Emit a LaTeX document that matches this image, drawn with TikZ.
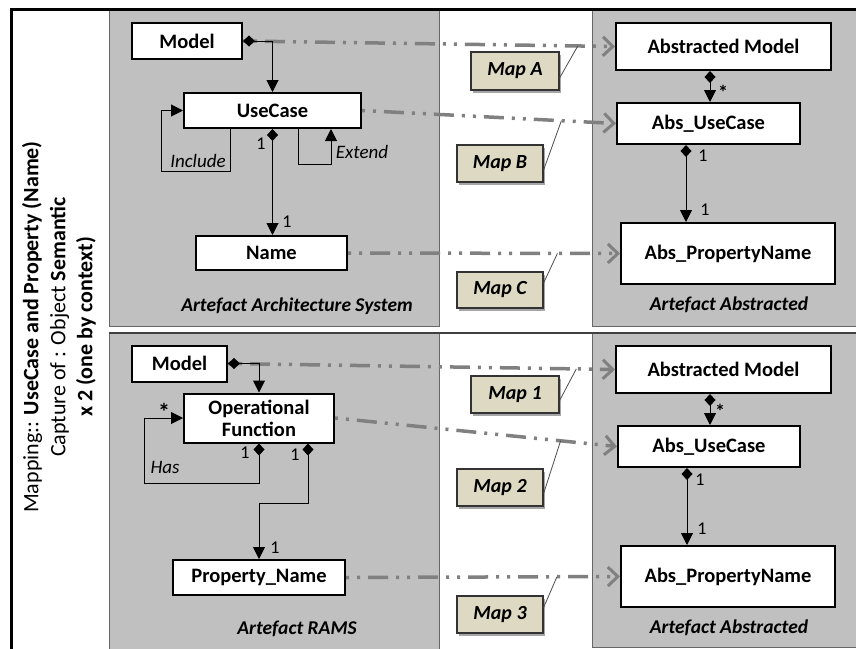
\documentclass[tikz,border=0pt]{standalone}
\usepackage{fontspec}
\setmainfont{Carlito}
\usetikzlibrary{arrows.meta,shadows}
\definecolor{panel}{HTML}{C0C0C0}
\definecolor{mapfill}{HTML}{DDD9C3}
\definecolor{mapline}{HTML}{808080}
\newcommand{\myfs}[2]{\fontsize{#1}{#2}\selectfont}
\begin{document}
\begin{tikzpicture}[x=1pt,y=-1pt,
 box/.style={draw, line width=2pt, fill=white, inner sep=0, font=\bfseries\myfs{20.5}{22}, align=center},
 mapbox/.style={draw=black!80, line width=1.2pt, fill=mapfill, inner sep=0, font=\bfseries\itshape\myfs{20}{22},
   drop shadow={shadow xshift=2pt, shadow yshift=-3pt, opacity=0.35, fill=black}},
 maplink/.style={draw=mapline, line width=3.5pt, dash pattern=on 3pt off 8pt on 3pt off 8pt on 20pt off 8pt,
   -{Straight Barb[length=10pt,width=19pt,line width=3pt]}},
 leader/.style={draw=black!70, line width=0.8pt},
 assoc/.style={draw, line width=1pt, {Diamond[length=12pt,width=11pt]}-{Triangle[length=12pt,width=12pt]}},
 selfassoc/.style={draw, line width=1pt, -{Triangle[length=12pt,width=12pt]}},
 lbl/.style={font=\itshape\myfs{19}{21}, inner sep=0},
 mult/.style={font=\myfs{18}{20}, inner sep=0},
 star/.style={font=\bfseries\myfs{20}{22}, inner sep=0},
 title/.style={font=\bfseries\itshape\myfs{19.5}{21}, inner sep=0},
 ]
\useasboundingbox (0,0) rectangle (856,648);
% panels
\filldraw[fill=panel, draw=black!60, line width=1pt] (109,10) rectangle (439,326);
\filldraw[fill=panel, draw=black!60, line width=1pt] (109,333) rectangle (439,662);
\filldraw[fill=panel, draw=black!60, line width=1pt] (592,10) rectangle (870,326);
\filldraw[fill=panel, draw=black!60, line width=1pt] (592,333) rectangle (870,647);
\draw[black!75, line width=2pt] (109,333) -- (870,333);
\draw[line width=3pt] (11,662) -- (11,9.5) -- (870,9.5);

% side text
\node[rotate=90, align=center, font=\myfs{22}{27}, inner sep=0] (side) at (59,327)
 {Mapping:: \textbf{UseCase and Property (Name)}\\ Capture of : Object \textbf{Semantic}\\ \textbf{x 2 (one by context)}};

% top section nodes
\node[box, minimum width=110, minimum height=36] (m1) at (187,41) {Model};
\node[box, minimum width=177, minimum height=35] (uc) at (272.5,110.5) {UseCase};
\node[box, minimum width=151, minimum height=34] (nm) at (271.5,253) {Name};
\node[box, minimum width=215, minimum height=47] (am1) at (723.5,46.5) {Abstracted Model};
\node[box, minimum width=183, minimum height=41] (auc1) at (708.5,123.5) {Abs\_UseCase};
\node[box, minimum width=214, minimum height=61] (apn1) at (728,253.5) {Abs\_PropertyName};

% bottom section nodes
\node[box, minimum width=95, minimum height=36] (m2) at (179.5,363.5) {Model};
\node[box, minimum width=150, minimum height=49] (of) at (259,418) {Operational\\Function};
\node[box, minimum width=172, minimum height=35] (pn) at (259,577.5) {Property\_Name};
\node[box, minimum width=215, minimum height=47] (am2) at (723.5,369.5) {Abstracted Model};
\node[box, minimum width=182, minimum height=41] (auc2) at (709,446.5) {Abs\_UseCase};
\node[box, minimum width=214, minimum height=61] (apn2) at (728,576.5) {Abs\_PropertyName};

% map boxes
\node[mapbox, minimum width=88, minimum height=38] (mapA) at (515,71) {Map A};
\node[mapbox, minimum width=86, minimum height=37] (mapB) at (500,163.5) {Map B};
\node[mapbox, minimum width=86, minimum height=36] (mapC) at (500,290) {Map C};
\node[mapbox, minimum width=88, minimum height=37] (map1) at (515,394.5) {Map 1};
\node[mapbox, minimum width=86, minimum height=37] (map2) at (500,487.5) {Map 2};
\node[mapbox, minimum width=86, minimum height=37] (map3) at (500,614.5) {Map 3};

% mapping links
\draw[maplink] (m1.east) -- coordinate[pos=0.9] (pA) (am1.west);
\draw[maplink] (uc.east) -- coordinate[pos=0.785] (pB) (auc1.west);
\draw[maplink] (nm.east) -- coordinate[pos=0.77] (pC) (apn1.west);
\draw[maplink] (m2.east) -- coordinate[pos=0.9] (p1) (am2.west);
\draw[maplink] (of.east) -- coordinate[pos=0.8] (p2) (auc2.west);
\draw[maplink] (pn.east) -- coordinate[pos=0.77] (p3) (apn2.west);
\draw[leader] ([yshift=-7pt]mapA.east) -- (pA);
\draw[leader] ([yshift=-6.5pt]mapB.east) -- (pB);
\draw[leader] ([yshift=7pt]mapC.east) -- (pC);
\draw[leader] ([yshift=-6pt]map1.east) -- (p1);
\draw[leader] ([yshift=-6pt]map2.east) -- (p2);
\draw[leader] ([yshift=7pt]map3.east) -- (p3);

% top associations
\draw[assoc] (m1.east) -| (uc.north);
\draw[assoc] (uc.south) -- (uc.south |- nm.north);
\draw[selfassoc] ([xshift=-42.5pt]uc.south) -- ++(0,42) -| ([xshift=-22pt]uc.west) -- (uc.west);
\draw[selfassoc] ([xshift=25.5pt]uc.south) -- ++(0,35) -| ([xshift=58.5pt]uc.south);
\draw[assoc] ([xshift=-13.5pt]am1.south) -- ([xshift=-13.5pt]am1.south |- auc1.north);
\draw[assoc] ([xshift=-22.5pt]auc1.south) -- ([xshift=-22.5pt]auc1.south |- apn1.north);

\node[mult] (u1) at (261,144) {1};
\node[mult] (u2) at (287,222) {1};
\node[lbl] (inc) at (198,161) {Include};
\node[lbl] (ext) at (362,152) {Extend};
\node[star] (s1) at (723,92) {*};
\node[mult] (r1) at (703,156) {1};
\node[mult] (r2) at (705,210) {1};

% bottom associations
\draw[assoc] (m2.east) -| (of.north);
\draw[assoc] (of.south) -- ++(0,40) -| ([xshift=-39pt]of.west) -- (of.west);
\draw[assoc] ([xshift=49pt]of.south) -- ++(0,60) -| (pn.north);
\draw[assoc] ([xshift=-13.5pt]am2.south) -- ([xshift=-13.5pt]am2.south |- auc2.north);
\draw[assoc] ([xshift=-22pt]auc2.south) -- ([xshift=-22pt]auc2.south |- apn2.north);

\node[star, font=\bfseries\myfs{24}{26}] (s2) at (164,412) {*};
\node[lbl] (has) at (165,467) {Has};
\node[mult] (b1) at (245,453) {1};
\node[mult] (b2) at (295,455) {1};
\node[mult] (b3) at (275,548) {1};
\node[star] (s3) at (720,411) {*};
\node[mult] (r3) at (700,480) {1};
\node[mult] (r4) at (702,529) {1};

% titles
\node[title] (t1) at (297,306) {Artefact Architecture System};
\node[title] (t2) at (729,305) {Artefact Abstracted};
\node[title] (t3) at (297,629) {Artefact RAMS};
\node[title] (t4) at (729,628) {Artefact Abstracted};
\end{tikzpicture}
\end{document}
